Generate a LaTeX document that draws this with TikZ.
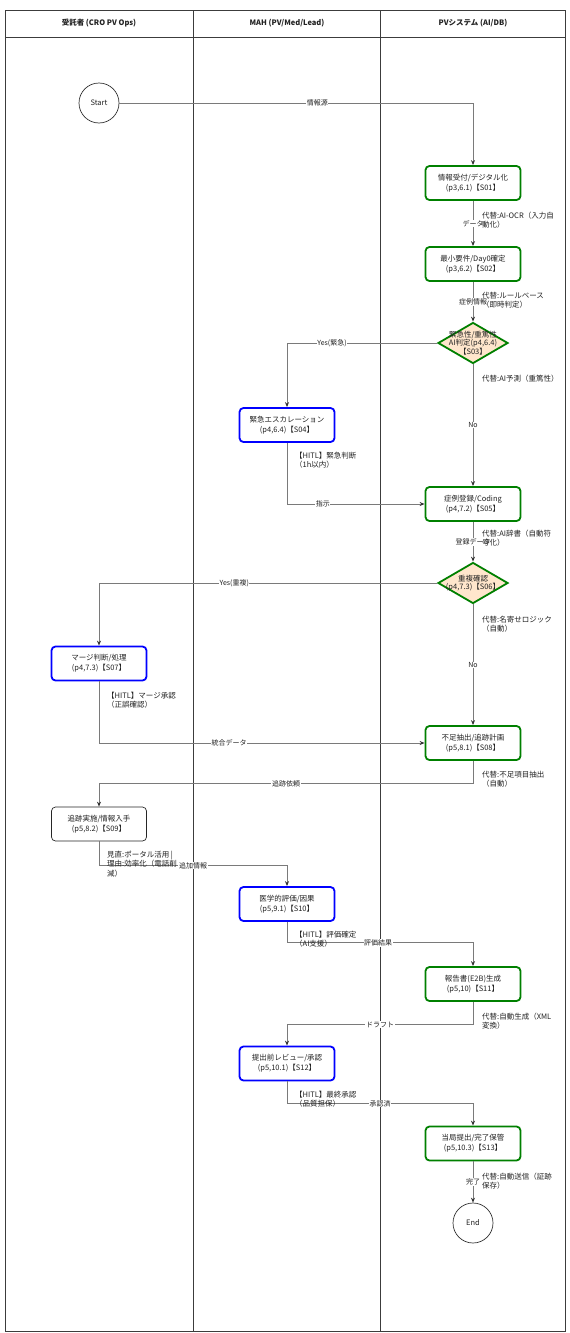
\documentclass[tikz,border=0pt]{standalone}
\usepackage{fontspec}
\setmainfont{Noto Sans CJK JP}
\usetikzlibrary{shapes.geometric, arrows.meta}
\definecolor{sysline}{HTML}{008000}
\definecolor{hitlline}{HTML}{0000FF}
\definecolor{decidefill}{HTML}{FFE6CC}
\definecolor{flowline}{HTML}{7A7A7A}
\definecolor{laneline}{HTML}{3C3C3C}
\definecolor{inktext}{HTML}{222222}
\tikzset{
  lane/.style={draw=laneline, line width=0.9pt},
  lanehead/.style={font=\bfseries\fontsize{7.5}{9}\selectfont, text=inktext},
  stepbox/.style={draw, rounded corners=4pt, minimum width=95pt, minimum height=34pt,
                  align=center, inner sep=1pt, font=\fontsize{7.5}{10}\selectfont, text=inktext},
  sysbox/.style={stepbox, draw=sysline, line width=1.8pt},
  hitlbox/.style={stepbox, draw=hitlline, line width=1.8pt},
  opsbox/.style={stepbox, draw=black!85, line width=0.7pt},
  decide/.style={diamond, draw=sysline, fill=decidefill, line width=1.8pt,
                 minimum width=70pt, minimum height=41pt, inner sep=0pt},
  decidetext/.style={align=center, inner sep=0pt, font=\fontsize{7.5}{8.5}\selectfont, text=inktext},
  term/.style={circle, draw=black!80, line width=0.7pt, minimum size=40pt, inner sep=0pt,
               font=\fontsize{7.5}{9}\selectfont, text=inktext},
  flow/.style={draw=flowline, line width=0.9pt, -{Stealth[length=5pt, width=4pt, color=black!80]}},
  elabel/.style={fill=white, inner sep=0.6pt, font=\fontsize{7}{8}\selectfont, text=inktext},
  note/.style={anchor=west, align=left, inner sep=0pt, font=\fontsize{7.5}{9.5}\selectfont, text=inktext},
}

\begin{document}
\begin{tikzpicture}[x=1pt, y=-1pt]
  \useasboundingbox (0,0) rectangle (570,1333);
  \fill[white] (0,0) rectangle (570,1333);
  \draw[lane] (5.5,10) rectangle (565,1331);
  \draw[lane] (5.5,37) -- (565,37);
  \draw[lane] (193,10) -- (193,1331);
  \draw[lane] (380.5,10) -- (380.5,1331);
  \node[lanehead] (h1) at (99,23.5) {受託者 (CRO PV Ops)};
  \node[lanehead] (h2) at (287,23.5) {MAH (PV/Med/Lead)};
  \node[lanehead] (h3) at (473,23.5) {PVシステム (AI/DB)};

  \node[term] (startnode) at (99,103) {Start};
  \node[sysbox] (s01) at (473,183) {情報受付/デジタル化\\(p3,6.1)【S01】};
  \node[sysbox] (s02) at (473,264) {最小要件/Day0確定\\(p3,6.2)【S02】};
  \node[decide, label={[decidetext]center:{緊急性/重篤性\\AI判定(p4,6.4)\\【S03】}}] (s03) at (473,343) {};
  \node[hitlbox] (s04) at (287,425) {緊急エスカレーション\\(p4,6.4)【S04】};
  \node[sysbox] (s05) at (473,504) {症例登録/Coding\\(p4,7.2)【S05】};
  \node[decide, label={[decidetext]center:{重複確認\\(p4,7.3)【S06】}}] (s06) at (473,583) {};
  \node[hitlbox] (s07) at (99,663.5) {マージ判断/処理\\(p4,7.3)【S07】};
  \node[sysbox] (s08) at (473,743) {不足抽出/追跡計画\\(p5,8.1)【S08】};
  \node[opsbox] (s09) at (99,824) {追跡実施/情報入手\\(p5,8.2)【S09】};
  \node[hitlbox] (s10) at (287,904) {医学的評価/因果\\(p5,9.1)【S10】};
  \node[sysbox] (s11) at (473,984) {報告書(E2B)生成\\(p5,10)【S11】};
  \node[hitlbox] (s12) at (287,1063.5) {提出前レビュー/承認\\(p5,10.1)【S12】};
  \node[sysbox] (s13) at (473,1143.5) {当局提出/完了保管\\(p5,10.3)【S13】};
  \node[term] (endnode) at (473,1223) {End};

  \draw[flow] (startnode) -| node[elabel, pos=0.28] {情報源} (s01);
  \draw[flow] (s01) -- node[elabel] {データ} (s02);
  \draw[flow] (s02) -- node[elabel] {症例情報} (s03);
  \draw[flow] (s03.west) -| node[elabel, pos=0.35] {Yes(緊急)} (s04);
  \draw[flow] (s03) -- node[elabel] {No} (s05);
  \draw[flow] (s04) |- node[elabel, pos=0.63] {指示} (s05);
  \draw[flow] (s05) -- node[elabel] {登録データ} (s06);
  \draw[flow] (s06.west) -| node[elabel, pos=0.3] {Yes(重複)} (s07);
  \draw[flow] (s06) -- node[elabel] {No} (s08);
  \draw[flow] (s07) |- node[elabel, pos=0.7] {統合データ} (s08);
  \draw[flow] (s08.south) -- ++(0,23) -| node[elabel, pos=0.25] {追跡依頼} (s09);
  \draw[flow] (s09.south) -- ++(0,24) -| node[elabel, pos=0.25] {追加情報} (s10);
  \draw[flow] (s10.south) -- ++(0,21) -| node[elabel, pos=0.245] {評価結果} (s11);
  \draw[flow] (s11.south) -- ++(0,23) -| node[elabel, pos=0.25] {ドラフト} (s12);
  \draw[flow] (s12.south) -- ++(0,22) -| node[elabel, pos=0.25] {承認済} (s13);
  \draw[flow] (s13) -- node[elabel] {完了} (endnode);

  \node[note] (n01) at (482,220) {代替:AI-OCR（入力自\\動化）};
  \node[note] (n02) at (482,300) {代替:ルールベース\\（即時判定）};
  \node[note] (n03) at (482,379) {代替:AI予測（重篤性）};
  \node[note] (n04) at (295,460) {【HITL】緊急判断\\（1h以内）};
  \node[note] (n05) at (482,538) {代替:AI辞書（自動符\\号化）};
  \node[note] (n06) at (482,624) {代替:名寄せロジック\\（自動）};
  \node[note] (n07) at (107,700) {【HITL】マージ承認\\（正誤確認）};
  \node[note] (n08) at (482,779) {代替:不足項目抽出\\（自動）};
  \node[note] (n09) at (107,864) {見直:ポータル活用 |\\理由:効率化（電話削\\減）};
  \node[note] (n10) at (295,939) {【HITL】評価確定\\（AI支援）};
  \node[note] (n11) at (482,1021) {代替:自動生成（XML\\変換）};
  \node[note] (n12) at (295,1099) {【HITL】最終承認\\（品質担保）};
  \node[note] (n13) at (482,1181) {代替:自動送信（証跡\\保存）};
\end{tikzpicture}
\end{document}
